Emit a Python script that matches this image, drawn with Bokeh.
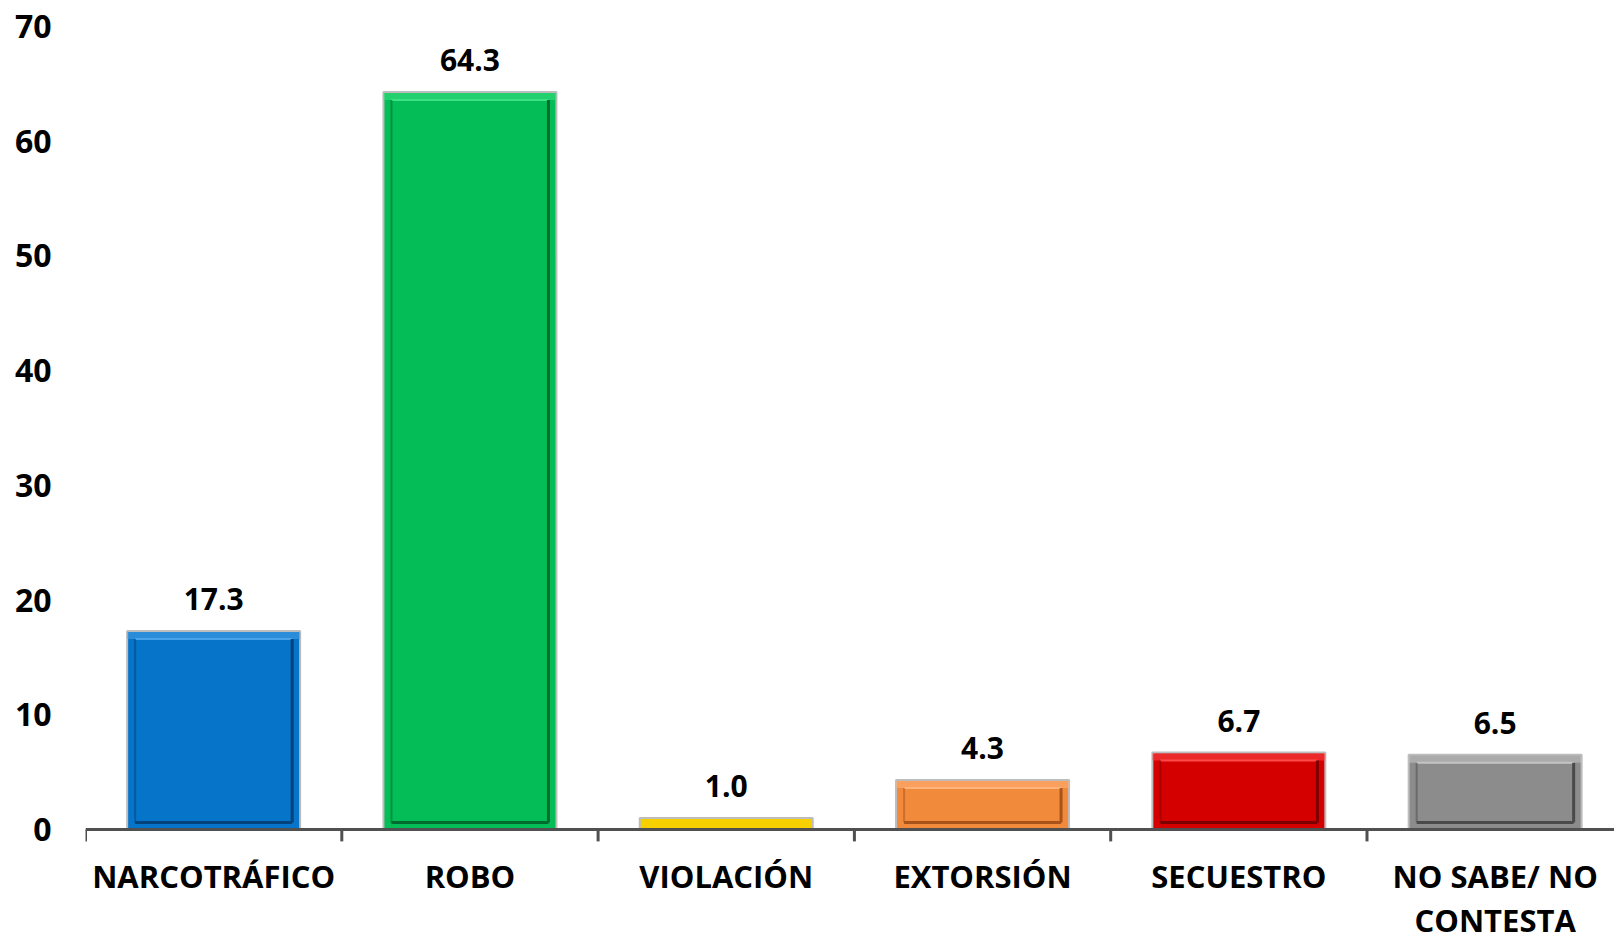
import numpy as np
from bokeh.plotting import figure
from bokeh.models import Range1d, FixedTicker, ColumnDataSource
from bokeh.core.properties import value
from bokeh.embed import file_html
from bokeh.resources import INLINE

categories = ["NARCOTRÁFICO", "ROBO", "VIOLACIÓN", "EXTORSIÓN", "SECUESTRO", "NO SABE/ NO\nCONTESTA"]
values = [17.3, 64.3, 1.0, 4.3, 6.7, 6.5]
value_labels = ["17.3", "64.3", "1.0", "4.3", "6.7", "6.5"]
bar_colors = ["#0674c8", "#04bd56", "#f7d000", "#f28a3c", "#d40000", "#8c8c8c"]
light_colors = ["#4aa3e8", "#3ee084", "#ffe866", "#ffb27a", "#ff4a4a", "#c4c4c4"]
edge_colors = ["#03427a", "#006b2e", "#b89400", "#a8531a", "#7a0000", "#4a4a4a"]
y_ticks = [0, 10, 20, 30, 40, 50, 60, 70]

FONT = "Open Sans"
W, H = 1614, 937
TOP, LEFT = 26, 85
BW = 0.675
PX_X = 256.3   # px per category
PX_Y = 11.47   # px per unit

x = np.arange(len(categories)) + 0.5
vals = np.array(values)
x_end = (W - LEFT) / PX_X
y_start = 70 - (H - TOP) / PX_Y

p = figure(width=W, height=H, output_backend="svg", toolbar_location=None,
           x_range=Range1d(0, x_end), y_range=Range1d(y_start, 70),
           x_axis_location=None,
           min_border_left=LEFT, min_border_right=0, min_border_top=TOP, min_border_bottom=0)
p.outline_line_color = None
p.xgrid.grid_line_color = None
p.ygrid.grid_line_color = None
p.background_fill_color = "white"
p.border_fill_color = "white"

# outer bars
src = ColumnDataSource(dict(x=x, top=vals, color=bar_colors))
p.vbar(x="x", top="top", bottom=0, width=BW, source=src, fill_color="color",
       line_color="#bdbdbd", line_width=2)

# inner bevel face
inset_x = 8 / PX_X
inset_y = 8 / PX_Y
inner_top = vals - inset_y
inner_bot = np.full_like(vals, 7 / PX_Y)
show = (inner_top - inner_bot) > 0.5
L = (x - BW / 2 + inset_x)[show]
R = (x + BW / 2 - inset_x)[show]
T = inner_top[show]
B = inner_bot[show]
ec = list(np.array(edge_colors)[show])
lc = list(np.array(light_colors)[show])
p.quad(left=(x - BW / 2)[show], right=(x + BW / 2)[show], top=vals[show] - 1 / PX_Y,
       bottom=T, fill_color=lc, fill_alpha=0.55, line_color=None)
p.segment(x0=L, y0=T, x1=R, y1=T, line_color=lc, line_width=2)
p.segment(x0=L, y0=B, x1=L, y1=T, line_color=ec, line_width=2, line_alpha=0.5)
p.segment(x0=R, y0=B, x1=R, y1=T, line_color=ec, line_width=3)
p.segment(x0=L, y0=B, x1=R, y1=B, line_color=ec, line_width=3)

# category axis drawn at y = 0 (line + boundary ticks)
bounds = np.arange(len(categories) + 1)
p.segment(x0=[0], y0=[0], x1=[x_end], y1=[0], line_color="#505050", line_width=3)
p.segment(x0=bounds, y0=np.zeros(len(bounds)), x1=bounds,
          y1=np.full(len(bounds), -12 / PX_Y), line_color="#505050", line_width=3)

# value labels
lsrc = ColumnDataSource(dict(x=x, y=vals, t=value_labels))
p.text(x="x", y="y", text="t", source=lsrc, text_align="center", text_baseline="alphabetic",
       y_offset=-32, text_font=value(FONT), text_font_style="bold", text_font_size="30px",
       text_color="black")

# category labels
csrc = ColumnDataSource(dict(x=x, y=np.zeros_like(x), t=categories))
p.text(x="x", y="y", text="t", source=csrc, text_align="center", text_baseline="top",
       y_offset=26, text_font=value(FONT), text_font_style="bold", text_font_size="31px",
       text_color="black", text_line_height=1.05)

p.yaxis.ticker = FixedTicker(ticks=y_ticks, minor_ticks=[])
p.yaxis.axis_line_color = None
p.yaxis.major_tick_line_color = None
p.yaxis.minor_tick_line_color = None
p.yaxis.major_tick_out = 0
p.yaxis.major_tick_in = 0
p.yaxis.major_label_text_font = FONT
p.yaxis.major_label_text_font_style = "bold"
p.yaxis.major_label_text_font_size = "32px"
p.yaxis.major_label_text_color = "black"
p.yaxis.major_label_standoff = 34

open("out.html", "w").write(file_html(p, INLINE))
